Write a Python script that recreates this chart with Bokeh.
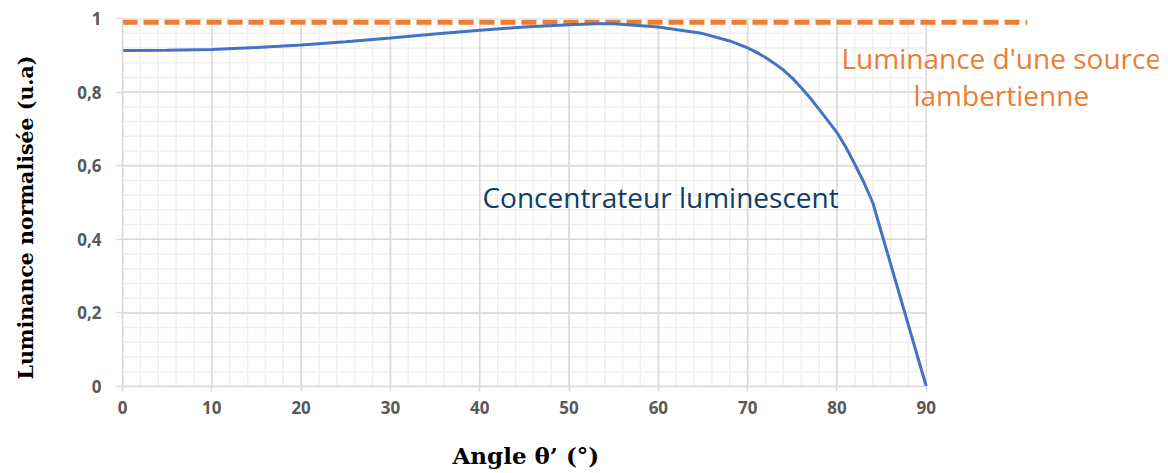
from bokeh.plotting import figure
from bokeh.models import FixedTicker, Range1d, LinearAxis, Title
from bokeh.core.properties import value
from bokeh.embed import file_html
from bokeh.resources import INLINE

# ---- data ----
angle_deg = [0, 5, 10, 15, 20, 25, 30, 35, 40, 45, 50, 53, 55, 60, 65, 68, 70,
             71, 72, 73, 74, 75, 76, 77, 78, 79, 80, 81, 82, 83, 84, 90]
luminance_lc = [0.913, 0.914, 0.916, 0.921, 0.928, 0.937, 0.947, 0.958, 0.968,
                0.977, 0.983, 0.986, 0.986, 0.977, 0.959, 0.939, 0.920,
                0.908, 0.894, 0.878, 0.860, 0.838, 0.812, 0.784, 0.753, 0.722,
                0.690, 0.650, 0.604, 0.555, 0.500, 0.0]
lambert_x = [0, 101.3]
lambert_y = [0.99, 0.99]

x_major = [0, 10, 20, 30, 40, 50, 60, 70, 80, 90]
x_labels = ["0", "10", "20", "30", "40", "50", "60", "70", "80", "90"]
x_minor = list(range(0, 91, 2))
y_major = [0.0, 0.2, 0.4, 0.6, 0.8, 1.0]
y_labels = ["0", "0,2", "0,4", "0,6", "0,8", "1"]
y_minor = [round(i * 0.04, 2) for i in range(26)]

label_lc = "Concentrateur luminescent"
label_lambert = ["Luminance d'une source", "lambertienne"]
x_title = "Angle θ’ (°)"
y_title = "Luminance normalisée (u.a)"

GRID_MAJOR = "#d9d9d9"
GRID_MINOR = "#efefef"

p = figure(frame_width=1036, frame_height=368,
           x_range=Range1d(0, 116), y_range=Range1d(0, 1),
           output_backend="svg", toolbar_location=None,
           min_border_left=122, min_border_right=10,
           min_border_top=18, min_border_bottom=87)
p.outline_line_color = None
p.xgrid.visible = False
p.ygrid.visible = False

xmax = x_major[-1]
# minor grid
p.segment(x0=x_minor, y0=[0] * len(x_minor), x1=x_minor, y1=[1] * len(x_minor),
          line_color=GRID_MINOR, line_width=1.5)
p.segment(x0=[0] * len(y_minor), y0=y_minor, x1=[xmax] * len(y_minor), y1=y_minor,
          line_color=GRID_MINOR, line_width=1.5)
# major grid
p.segment(x0=x_major, y0=[0] * len(x_major), x1=x_major, y1=[1] * len(x_major),
          line_color=GRID_MAJOR, line_width=1.5)
p.segment(x0=[0] * len(y_major), y0=y_major, x1=[xmax] * len(y_major), y1=y_major,
          line_color=GRID_MAJOR, line_width=1.5)

# series
p.line(lambert_x, lambert_y, line_color="#ED7D31", line_width=5, line_dash="15 6")
p.line(angle_deg, luminance_lc, line_color="#4472C4", line_width=3)

# annotations
p.text(x=[40.3], y=[0.516], text=[label_lc], text_font=value("Open Sans"),
       text_font_size="28px", text_color="#0F3C68",
       text_align="left", text_baseline="middle")
p.text(x=[98.4, 98.4], y=[0.894, 0.791], text=label_lambert,
       text_font=value("Open Sans"), text_font_size="28px", text_color="#ED7D31",
       text_align="center", text_baseline="middle")

# axes
for ax in (p.xaxis[0], p.yaxis[0]):
    ax.axis_line_color = GRID_MAJOR
    ax.axis_line_width = 1.5
    ax.major_tick_line_color = GRID_MAJOR
    ax.major_tick_line_width = 1.5
    ax.major_tick_in = 0
    ax.minor_tick_line_color = None
    ax.major_label_text_font = "Open Sans"
    ax.major_label_text_font_style = "bold"
    ax.major_label_text_font_size = "17px"
    ax.major_label_text_color = "#595959"

p.xaxis.ticker = FixedTicker(ticks=x_major)
p.xaxis.bounds = (0, xmax)
p.xaxis.major_tick_out = 5
p.xaxis.major_label_standoff = 9
p.xaxis.major_label_overrides = dict(zip(x_major, x_labels))

p.yaxis.ticker = FixedTicker(ticks=y_major)
p.yaxis.major_tick_out = 6
p.yaxis.major_label_standoff = 15
p.yaxis.major_label_overrides = dict(zip(y_major, y_labels))


def spacer_axis(size, tick_at):
    # empty axis whose only role is to reserve `size` pixels of space
    ax = LinearAxis(ticker=FixedTicker(ticks=[tick_at]))
    ax.axis_line_color = None
    ax.major_tick_line_color = "white"
    ax.minor_tick_line_color = None
    ax.major_tick_in = 0
    ax.major_tick_out = size
    ax.major_label_standoff = 0
    ax.major_label_text_font_size = "0px"
    ax.major_label_overrides = {tick_at: ""}
    return ax


p.add_layout(spacer_axis(23, 104), "below")
p.add_layout(Title(text=x_title, align="left", offset=330, vertical_align="bottom",
                   standoff=0, text_font="DejaVu Serif", text_font_style="bold",
                   text_font_size="23px", text_color="black"), "below")

p.add_layout(spacer_axis(37, 0.5), "left")
p.add_layout(Title(text=y_title, align="left", offset=7, vertical_align="bottom",
                   standoff=0, text_font="DejaVu Serif", text_font_style="bold",
                   text_font_size="20.5px", text_color="black"), "left")

open("out.html", "w").write(file_html(p, INLINE))
